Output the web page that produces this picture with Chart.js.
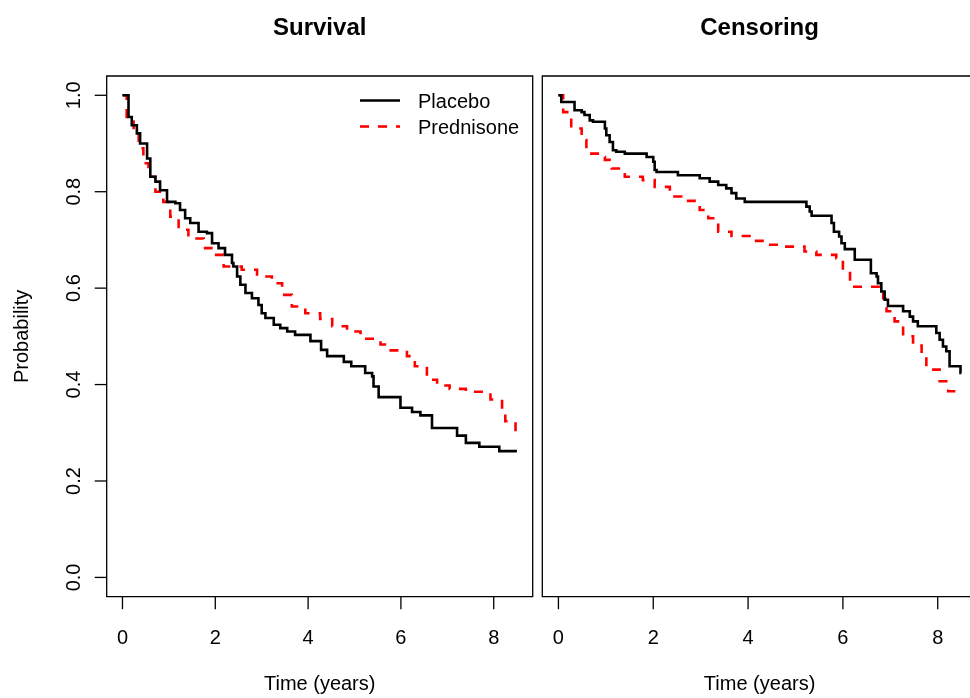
<!DOCTYPE html>
<html>
<head>
<meta charset="utf-8">
<script src="https://cdn.jsdelivr.net/npm/chart.js@4.4.1/dist/chart.umd.min.js"></script>
<style>
  html, body { margin: 0; padding: 0; background: #fff; overflow: hidden; }
  #wrap { position: relative; width: 970px; height: 698px; overflow: hidden; }
  canvas { position: absolute; top: 0; }
</style>
</head>
<body>
<div id="wrap">
  <canvas id="surv" width="540" height="698" style="left:0"></canvas>
  <canvas id="cens" width="460" height="698" style="left:537px"></canvas>
</div>
<script>
// Kaplan-Meier estimates (time in years, probability)
const survPlaceboTime = [0, 0.13, 0.20, 0.31, 0.38, 0.53, 0.60, 0.71, 0.81, 0.96, 1.14, 1.24, 1.35, 1.46, 1.64, 1.82, 1.93, 2.07, 2.21, 2.36, 2.39, 2.47, 2.54, 2.65, 2.79, 2.93, 3.00, 3.08, 3.26, 3.40, 3.55, 3.72, 4.05, 4.28, 4.41, 4.77, 4.93, 5.23, 5.38, 5.41, 5.52, 5.99, 6.24, 6.42, 6.67, 7.21, 7.40, 7.69, 8.12, 8.50];
const survPlaceboProb = [1.0, 0.955, 0.938, 0.921, 0.900, 0.869, 0.831, 0.821, 0.803, 0.779, 0.776, 0.762, 0.745, 0.735, 0.717, 0.714, 0.693, 0.683, 0.669, 0.652, 0.645, 0.624, 0.607, 0.590, 0.579, 0.565, 0.548, 0.538, 0.524, 0.517, 0.510, 0.503, 0.490, 0.472, 0.459, 0.447, 0.438, 0.424, 0.417, 0.396, 0.374, 0.352, 0.343, 0.336, 0.310, 0.294, 0.279, 0.271, 0.262, 0.262];

const survPredTime = [0, 0.09, 0.24, 0.35, 0.45, 0.56, 0.71, 0.88, 1.03, 1.21, 1.42, 1.75, 1.78, 1.96, 2.18, 2.57, 2.90, 3.22, 3.44, 3.65, 3.94, 4.26, 4.52, 4.84, 5.13, 5.56, 5.70, 6.13, 6.30, 6.56, 6.78, 7.05, 7.40, 7.93, 8.18, 8.25, 8.47, 8.50];
const survPredProb = [1.0, 0.955, 0.928, 0.890, 0.859, 0.831, 0.800, 0.779, 0.748, 0.721, 0.703, 0.690, 0.683, 0.669, 0.645, 0.638, 0.624, 0.610, 0.586, 0.562, 0.548, 0.536, 0.521, 0.510, 0.495, 0.483, 0.471, 0.459, 0.438, 0.410, 0.398, 0.391, 0.385, 0.369, 0.348, 0.324, 0.293, 0.293];

const censPlaceboTime = [0, 0.06, 0.34, 0.49, 0.55, 0.66, 0.73, 0.98, 1.01, 1.08, 1.15, 1.22, 1.40, 1.86, 2.00, 2.03, 2.07, 2.52, 2.98, 3.19, 3.37, 3.54, 3.65, 3.75, 3.93, 5.23, 5.30, 5.34, 5.76, 5.81, 5.92, 5.97, 6.04, 6.25, 6.59, 6.71, 6.74, 6.81, 6.88, 6.95, 7.27, 7.41, 7.48, 7.58, 7.97, 8.04, 8.11, 8.18, 8.25, 8.48, 8.50];
const censPlaceboProb = [1.0, 0.986, 0.969, 0.965, 0.959, 0.948, 0.945, 0.931, 0.917, 0.903, 0.886, 0.883, 0.879, 0.872, 0.862, 0.845, 0.841, 0.834, 0.828, 0.821, 0.814, 0.807, 0.797, 0.786, 0.779, 0.769, 0.759, 0.750, 0.735, 0.717, 0.707, 0.693, 0.681, 0.659, 0.631, 0.624, 0.610, 0.593, 0.576, 0.563, 0.552, 0.541, 0.531, 0.521, 0.507, 0.493, 0.479, 0.469, 0.438, 0.424, 0.424];

const censPredTime = [0, 0.10, 0.27, 0.49, 0.59, 0.91, 0.98, 1.12, 1.40, 1.78, 2.03, 2.35, 2.59, 2.98, 3.16, 3.37, 3.65, 4.03, 4.39, 4.77, 5.19, 5.44, 5.86, 6.00, 6.15, 6.78, 6.85, 6.92, 7.09, 7.27, 7.48, 7.66, 7.76, 8.04, 8.22, 8.42];
const censPredProb = [1.0, 0.965, 0.931, 0.907, 0.879, 0.872, 0.866, 0.848, 0.831, 0.824, 0.810, 0.790, 0.781, 0.762, 0.745, 0.717, 0.708, 0.698, 0.690, 0.686, 0.676, 0.669, 0.662, 0.638, 0.603, 0.597, 0.579, 0.552, 0.531, 0.500, 0.481, 0.462, 0.431, 0.407, 0.386, 0.386];

const xTicks = [0, 2, 4, 6, 8];
const yTicks = [0, 0.2, 0.4, 0.6, 0.8, 1.0];
const yTickLabels = ["0.0", "0.2", "0.4", "0.6", "0.8", "1.0"];
const groups = ["Placebo", "Prednisone"];

const FONT = '"Liberation Sans", Arial, Helvetica, sans-serif';

function pts(t, p) {
  return t.map((v, i) => ({ x: v, y: p[i] }));
}

function lineSets(placebo, pred) {
  return [
    { label: groups[0], data: placebo, borderColor: "#000", borderWidth: 2.6, stepped: true, pointRadius: 0, fill: false },
    { label: groups[1], data: pred, borderColor: "#ff0000", borderWidth: 2.6, borderDash: [9, 9], stepped: true, pointRadius: 0, fill: false }
  ];
}

// R style frame: box, outward ticks, rotated y labels, titles, legend
const rPanel = {
  id: "rPanel",
  afterDraw(chart, args, opts) {
    const { ctx, chartArea: a, scales } = chart;
    const cx = opts.centerX != null ? opts.centerX : (a.left + a.right) / 2;
    ctx.save();
    ctx.strokeStyle = "#000";
    ctx.fillStyle = "#000";
    ctx.lineWidth = 1.3;
    ctx.beginPath();
    ctx.moveTo(a.right, a.top);
    ctx.lineTo(a.left, a.top);
    ctx.lineTo(a.left, a.bottom);
    ctx.lineTo(a.right, a.bottom);
    if (!opts.openRight) ctx.closePath();
    ctx.stroke();

    ctx.font = "20px " + FONT;
    ctx.textAlign = "center";
    ctx.textBaseline = "alphabetic";
    xTicks.forEach(v => {
      const x = scales.x.getPixelForValue(v);
      ctx.beginPath();
      ctx.moveTo(x, a.bottom);
      ctx.lineTo(x, a.bottom + 12.5);
      ctx.stroke();
      ctx.fillText(String(v), x, 643.5);
    });
    ctx.fillText("Time (years)", cx, 690);

    if (opts.showY) {
      yTicks.forEach((v, i) => {
        const y = scales.y.getPixelForValue(v);
        ctx.beginPath();
        ctx.moveTo(a.left, y);
        ctx.lineTo(a.left - 12, y);
        ctx.stroke();
        ctx.save();
        ctx.translate(80, y);
        ctx.rotate(-Math.PI / 2);
        ctx.fillText(yTickLabels[i], 0, 0);
        ctx.restore();
      });
      ctx.save();
      ctx.translate(28.3, (a.top + a.bottom) / 2);
      ctx.rotate(-Math.PI / 2);
      ctx.fillText("Probability", 0, 0);
      ctx.restore();
    }

    if (opts.legend) {
      const rows = [100.5, 126.5];
      chart.data.datasets.forEach((ds, i) => {
        ctx.save();
        ctx.strokeStyle = ds.borderColor;
        ctx.lineWidth = ds.borderWidth;
        ctx.setLineDash(ds.borderDash || []);
        ctx.beginPath();
        ctx.moveTo(360, rows[i]);
        ctx.lineTo(400, rows[i]);
        ctx.stroke();
        ctx.restore();
        ctx.textAlign = "left";
        ctx.fillText(ds.label, 418, rows[i] + 7.8);
      });
    }

    ctx.font = "bold 24px " + FONT;
    ctx.textAlign = "center";
    ctx.fillText(opts.title, cx, 34.5);
    ctx.restore();
  }
};

function makeChart(id, datasets, pad, xMax, panel) {
  return new Chart(document.getElementById(id), {
    type: "line",
    data: { datasets },
    options: {
      responsive: false,
      animation: false,
      devicePixelRatio: 1,
      layout: { padding: pad },
      scales: {
        x: { type: "linear", min: -0.34, max: xMax, display: false },
        y: { type: "linear", min: -0.04, max: 1.04, display: false }
      },
      plugins: {
        legend: { display: false },
        tooltip: { enabled: false },
        rPanel: panel
      }
    },
    plugins: [rPanel]
  });
}

makeChart("surv",
  lineSets(pts(survPlaceboTime, survPlaceboProb), pts(survPredTime, survPredProb)),
  { left: 106.7, right: 7.3, top: 76, bottom: 101.3 }, 8.84,
  { title: "Survival", showY: true, legend: true });

// right panel is cut by the window edge, as in the reference; its canvas
// runs past the edge so the frame's right side is out of view
makeChart("cens",
  lineSets(pts(censPlaceboTime, censPlaceboProb), pts(censPredTime, censPredProb)),
  { left: 5.3, right: 0, top: 76, bottom: 101.3 }, 9.25,
  { title: "Censoring", showY: false, legend: false, openRight: true, centerX: 222.6 });
</script>
</body>
</html>
